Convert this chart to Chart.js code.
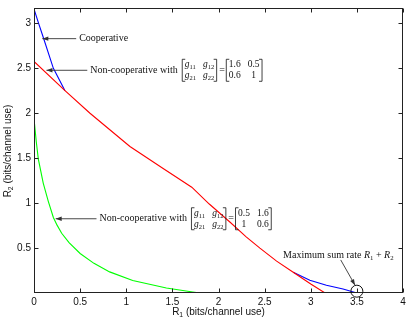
<!DOCTYPE html>
<html>
<head>
<meta charset="utf-8">
<script src="https://cdn.jsdelivr.net/npm/chart.js@4.4.1/dist/chart.umd.min.js"></script>
<style>
  html, body { margin: 0; padding: 0; background: #fff; }
</style>
</head>
<body>
<canvas id="chart" width="415" height="323"></canvas>
<script>
// cooperative rate region boundary (blue)
const coopR1 = [0, 0.05, 0.10, 0.21, 0.336, 0.607, 1.04, 1.40, 1.71, 1.9, 2.123, 2.3, 2.449, 2.63, 2.81, 2.99, 3.17, 3.35, 3.5];
const coopR2 = [3.16, 3.0, 2.846, 2.50, 2.251, 2.0, 1.63, 1.385, 1.177, 0.99, 0.79, 0.625, 0.50, 0.355, 0.23, 0.141, 0.087, 0.045, 0];

// non-cooperative, g = [1.6 0.5; 0.6 1] (red)
const ncA_R1 = [0, 0.336, 0.607, 1.04, 1.40, 1.71, 1.9, 2.123, 2.3, 2.449, 2.63, 2.81, 3.0, 3.155];
const ncA_R2 = [2.576, 2.251, 2.0, 1.63, 1.385, 1.177, 0.99, 0.79, 0.625, 0.50, 0.355, 0.23, 0.10, 0];

// non-cooperative, g = [0.5 1.6; 1 0.6] (green)
const ncB_R1 = [0, 0.025, 0.047, 0.10, 0.155, 0.21, 0.25, 0.3, 0.38, 0.5, 0.65, 0.82, 1.07, 1.435, 1.72, 1.8];
const ncB_R2 = [1.94, 1.68, 1.49, 1.223, 1.02, 0.84, 0.755, 0.665, 0.56, 0.44, 0.33, 0.235, 0.14, 0.055, 0.012, 0];

const gA = [["1.6", "0.5"], ["0.6", "1"]];
const gB = [["0.5", "1.6"], ["1", "0.6"]];
const maxSumPoint = [3.5, 0.02];

const xTicks = [0, 0.5, 1, 1.5, 2, 2.5, 3, 3.5, 4];
const yTicks = [0.5, 1, 1.5, 2, 2.5, 3];
const xMax = 4, yMax = 3.16;

const pts = (xs, ys) => xs.map((x, i) => ({ x: x, y: ys[i] }));

// a cooperative point that also lies on the red curve is hidden under it
const onRed = i => ncA_R1.some((x, k) => x === coopR1[i] && ncA_R2[k] === coopR2[i]);

const SERIF = "'Liberation Serif', 'DejaVu Serif', serif";
const SANS = "'Liberation Sans', Arial, sans-serif";

// draws a run of text pieces, returns width
function drawRich(ctx, x, y, parts, size, measureOnly) {
    let cx = x;
    for (const p of parts) {
        const sz = p.sub ? size * 0.68 : size;
        ctx.font = (p.italic ? "italic " : "") + sz + "px " + (p.sans ? SANS : SERIF);
        if (!measureOnly) ctx.fillText(p.t, cx, p.sub ? y + size * 0.3 : y);
        cx += ctx.measureText(p.t).width;
    }
    return cx - x;
}

function drawBracket(ctx, x, y, h, dir) {
    ctx.beginPath();
    ctx.moveTo(x + dir * 3, y - h);
    ctx.lineTo(x, y - h);
    ctx.lineTo(x, y + h);
    ctx.lineTo(x + dir * 3, y + h);
    ctx.stroke();
}

function drawMatrix(ctx, x, y, cells) {
    const size = 9.5;
    const widths = [0, 0];
    cells.forEach(row => row.forEach((c, j) => {
        widths[j] = Math.max(widths[j], drawRich(ctx, 0, 0, c, size, true));
    }));
    const pad = 3, sep = 7, h = 11;
    ctx.lineWidth = 0.8;
    ctx.strokeStyle = "#111";
    drawBracket(ctx, x + 0.5, y, h, 1);
    cells.forEach((row, i) => {
        let cx = x + pad;
        row.forEach((c, j) => {
            const w = drawRich(ctx, 0, 0, c, size, true);
            drawRich(ctx, cx + (widths[j] - w) / 2, y - 5.5 + i * 11, c, size, false);
            cx += widths[j] + sep;
        });
    });
    const total = pad + widths[0] + sep + widths[1] + pad;
    drawBracket(ctx, x + total - 0.5, y, h, -1);
    return total;
}

function arrow(ctx, x0, y0, x1, y1) {
    ctx.strokeStyle = "#333";
    ctx.fillStyle = "#333";
    ctx.lineWidth = 0.9;
    ctx.beginPath();
    ctx.moveTo(x0, y0);
    ctx.lineTo(x1, y1);
    ctx.stroke();
    const a = Math.atan2(y1 - y0, x1 - x0);
    const L = 6, W = 2.2;
    ctx.beginPath();
    ctx.moveTo(x1, y1);
    ctx.lineTo(x1 - L * Math.cos(a) + W * Math.sin(a), y1 - L * Math.sin(a) - W * Math.cos(a));
    ctx.lineTo(x1 - L * Math.cos(a) - W * Math.sin(a), y1 - L * Math.sin(a) + W * Math.cos(a));
    ctx.closePath();
    ctx.fill();
}

const symCells = [
    [[{ t: "g", italic: true }, { t: "11", sub: true }], [{ t: "g", italic: true }, { t: "12", sub: true }]],
    [[{ t: "g", italic: true }, { t: "21", sub: true }], [{ t: "g", italic: true }, { t: "22", sub: true }]]
];
const numCells = m => m.map(row => row.map(v => [{ t: v }]));

const notes = [
    { text: "Cooperative", at: [0.49, 2.83], tip: [0.09, 2.83] },
    { text: "Non-cooperative with", at: [0.61, 2.478], tip: [0.135, 2.478], g: gA },
    { text: "Non-cooperative with", at: [0.71, 0.826], tip: [0.235, 0.826], g: gB }
];

const decorations = {
    id: "decorations",
    afterDatasetsDraw(chart) {
        const ctx = chart.ctx;
        const a = chart.chartArea;
        const xs = chart.scales.x, ys = chart.scales.y;
        ctx.save();

        // box
        ctx.strokeStyle = "#222";
        ctx.lineWidth = 1;
        ctx.strokeRect(a.left + 0.5, a.top - 0.5, a.right - a.left - 1, a.bottom - a.top);

        // inward ticks on all four sides
        ctx.beginPath();
        xs.ticks.forEach(t => {
            const px = Math.round(xs.getPixelForValue(t.value)) + 0.5;
            ctx.moveTo(px, a.bottom - 0.5); ctx.lineTo(px, a.bottom - 4.5);
            ctx.moveTo(px, a.top - 0.5); ctx.lineTo(px, a.top + 3.5);
        });
        ys.ticks.forEach(t => {
            const py = Math.round(ys.getPixelForValue(t.value)) + 0.5;
            ctx.moveTo(a.left + 0.5, py); ctx.lineTo(a.left + 4.5, py);
            ctx.moveTo(a.right - 0.5, py); ctx.lineTo(a.right - 4.5, py);
        });
        ctx.stroke();

        // axis titles
        ctx.fillStyle = "#111";
        ctx.textBaseline = "middle";
        const xt = [{ t: "R", sans: true }, { t: "1", sub: true, sans: true }, { t: " (bits/channel use)", sans: true }];
        const xw = drawRich(ctx, 0, 0, xt, 10, true);
        drawRich(ctx, (a.left + a.right) / 2 - xw / 2, 312, xt, 10, false);
        const yt = [{ t: "R", sans: true }, { t: "2", sub: true, sans: true }, { t: " (bits/channel use)", sans: true }];
        const yw = drawRich(ctx, 0, 0, yt, 10, true);
        ctx.save();
        ctx.translate(8, (a.top + a.bottom) / 2);
        ctx.rotate(-Math.PI / 2);
        drawRich(ctx, -yw / 2, 0, yt, 10, false);
        ctx.restore();

        // annotations
        notes.forEach(n => {
            const tx = xs.getPixelForValue(n.at[0]);
            const ty = ys.getPixelForValue(n.at[1]);
            ctx.fillStyle = "#111";
            ctx.textBaseline = "middle";
            const w = drawRich(ctx, tx, ty, [{ t: n.text }], 10, false);
            arrow(ctx, tx - 3, ty, xs.getPixelForValue(n.tip[0]), ys.getPixelForValue(n.tip[1]));
            if (n.g) {
                ctx.fillStyle = "#111";
                let mx = tx + w + 4;
                mx += drawMatrix(ctx, mx, ty, symCells) + 2;
                ctx.font = "10px " + SERIF;
                ctx.fillText("=", mx, ty);
                mx += ctx.measureText("=").width + 1;
                drawMatrix(ctx, mx, ty, numCells(n.g));
            }
        });

        // maximum sum rate
        const mtx = xs.getPixelForValue(2.70), mty = ys.getPixelForValue(0.418);
        ctx.fillStyle = "#111";
        drawRich(ctx, mtx, mty, [
            { t: "Maximum sum rate " }, { t: "R", italic: true }, { t: "1", sub: true },
            { t: " + " }, { t: "R", italic: true }, { t: "2", sub: true }
        ], 10, false);
        arrow(ctx, xs.getPixelForValue(3.325), ys.getPixelForValue(0.368),
            xs.getPixelForValue(3.48), ys.getPixelForValue(0.087));
        ctx.strokeStyle = "#111";
        ctx.lineWidth = 1;
        ctx.beginPath();
        ctx.arc(xs.getPixelForValue(maxSumPoint[0]), ys.getPixelForValue(maxSumPoint[1]), 6, 0, Math.PI * 2);
        ctx.stroke();

        ctx.restore();
    }
};

const lineStyle = color => ({
    borderColor: color,
    backgroundColor: color,
    borderWidth: 1.1,
    pointRadius: 0,
    showLine: true,
    fill: false,
    tension: 0
});

const tickLabel = v => String(v);

new Chart(document.getElementById("chart"), {
    type: "scatter",
    data: {
        datasets: [
            Object.assign({ label: "Non-cooperative A", data: pts(ncA_R1, ncA_R2), order: 0 }, lineStyle("#ff0000")),
            Object.assign({ label: "Cooperative", data: pts(coopR1, coopR2), order: 1 }, lineStyle("#0000ff"), {
                segment: {
                    borderColor: s => (onRed(s.p0DataIndex) && onRed(s.p1DataIndex)) ? "rgba(0,0,0,0)" : undefined
                }
            }),
            Object.assign({ label: "Non-cooperative B", data: pts(ncB_R1, ncB_R2), order: 2 }, lineStyle("#00ff00"))
        ]
    },
    options: {
        responsive: false,
        animation: false,
        devicePixelRatio: 1,
        events: [],
        layout: { padding: { left: 0, top: 1, right: 12, bottom: 0 } },
        plugins: {
            legend: { display: false },
            tooltip: { enabled: false }
        },
        scales: {
            x: {
                type: "linear",
                min: 0,
                max: xMax,
                afterBuildTicks: s => { s.ticks = xTicks.map(v => ({ value: v })); },
                afterFit: s => { s.height = 30; },
                grid: { display: false, drawTicks: false },
                border: { display: false },
                ticks: {
                    callback: tickLabel,
                    font: { family: SANS, size: 10 },
                    color: "#111",
                    padding: 3,
                    maxRotation: 0,
                    autoSkip: false
                }
            },
            y: {
                type: "linear",
                min: 0,
                max: yMax,
                afterBuildTicks: s => { s.ticks = yTicks.map(v => ({ value: v })); },
                afterFit: s => { s.width = 34; },
                grid: { display: false, drawTicks: false },
                border: { display: false },
                ticks: {
                    callback: tickLabel,
                    font: { family: SANS, size: 10 },
                    color: "#111",
                    padding: 3,
                    autoSkip: false
                }
            }
        }
    },
    plugins: [decorations]
});
</script>
</body>
</html>
